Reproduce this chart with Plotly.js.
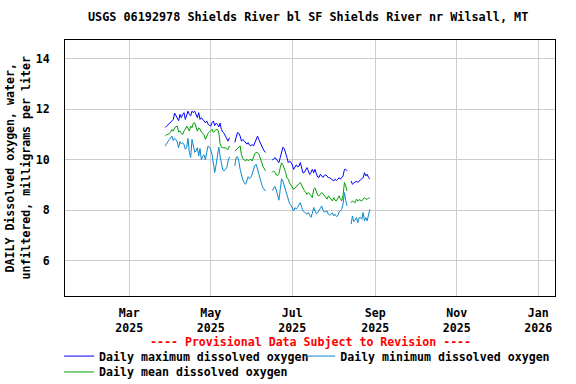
<!DOCTYPE html>
<html>
<head>
<meta charset="utf-8">
<script src="https://cdn.plot.ly/plotly-3.0.1.min.js"></script>
<style>
  html,body{margin:0;padding:0;background:#fff;}
  #chart{width:576px;height:384px;}
</style>
</head>
<body>
<div id="chart"></div>
<script>
// daily values from 2025-03-28, null = no record
const startDate = '2025-03-28';

const maxDO = [
  11.28,11.34,11.4,11.45,11.5,11.55,11.6,11.85,11.75,11.6,11.55,11.8,11.67,11.8,11.87,11.6,11.8,11.93,11.8,11.74,
  11.93,11.87,11.93,11.8,11.67,11.87,11.6,11.67,11.6,11.54,11.47,11.54,11.41,11.36,11.34,11.47,11.54,11.36,11.45,11.41,
  11.3,11.45,11.2,11.1,11.05,10.94,10.8,10.74,10.88,
  null,null,null,
  10.69,10.95,11.08,11.05,10.94,10.74,10.8,10.75,10.68,10.62,10.68,10.58,10.55,10.61,10.55,10.7,10.88,10.94,10.8,10.68,
  10.5,10.45,10.35,10.29,
  null,null,null,null,
  10.0,10.02,10.09,10.02,9.95,9.89,10.09,10.29,10.5,10.45,10.3,10.09,9.89,9.95,9.9,9.8,9.62,9.69,9.8,9.72,
  9.75,9.89,9.69,9.48,9.5,9.62,9.69,9.56,9.42,9.5,9.62,9.49,9.62,9.45,9.32,9.3,9.43,9.36,9.3,9.38,
  9.4,9.36,9.29,9.29,9.25,9.2,9.16,9.23,9.18,9.22,9.29,9.23,9.29,9.36,9.62,9.62,9.56,
  null,null,
  9.16,9.03,9.08,9.12,9.16,9.1,9.16,9.2,9.25,9.29,9.49,9.36,9.43,9.3,9.23
];

const minDO = [
  10.55,10.66,10.72,10.8,10.9,10.94,10.76,10.85,10.8,10.7,10.48,10.72,10.63,10.68,10.6,10.42,10.48,10.85,10.3,10.09,
  10.81,10.61,10.3,10.35,10.48,10.15,10.45,10.0,10.15,10.2,10.0,10.3,10.55,10.5,10.4,10.2,9.78,9.5,9.8,10.2,
  10.5,10.15,9.8,9.6,9.56,9.62,9.69,9.95,10.12,
  null,null,null,
  9.76,10.1,10.12,9.95,9.62,9.4,9.2,9.1,9.03,9.16,9.33,9.25,9.3,9.43,9.62,9.78,9.82,9.62,9.4,9.16,
  9.05,8.9,8.8,8.76,
  null,null,null,null,
  8.78,8.89,8.95,8.8,8.55,8.4,8.83,9.25,9.15,8.95,8.75,8.57,8.38,8.26,8.2,8.1,7.97,8.1,8.05,8.12,
  8.2,8.3,8.12,7.98,7.93,7.9,7.84,7.91,7.78,7.72,7.88,8.11,7.97,7.86,7.9,8.0,8.11,8.17,8.0,7.92,
  7.95,7.97,7.84,7.8,7.85,7.9,7.78,7.84,7.75,7.78,7.93,7.97,8.04,8.25,8.7,8.37,8.17,
  null,null,
  7.45,7.77,7.55,7.6,7.71,7.51,7.7,7.72,7.64,7.91,7.58,7.71,7.58,7.78,8.04
];

const meanDO = [
  10.95,11.0,11.0,11.05,11.1,11.2,11.14,11.27,11.3,11.34,11.1,11.14,11.05,11.0,11.14,11.21,11.34,11.2,11.14,11.34,
  11.27,11.45,11.47,11.3,11.14,11.27,11.21,11.1,11.05,11.0,10.81,10.94,11.05,11.1,11.14,11.21,11.08,11.14,11.2,11.21,
  11.1,10.65,10.5,10.48,10.48,10.48,10.42,10.42,10.55,
  null,null,null,
  10.35,10.4,10.45,10.5,10.55,10.2,10.05,10.0,9.95,10.02,9.96,10.0,10.02,9.95,10.08,10.25,10.29,10.29,10.22,10.09,
  9.92,9.75,9.65,9.56,
  null,null,null,null,
  9.5,9.56,9.5,9.4,9.38,9.45,9.69,9.88,9.8,9.68,9.5,9.29,9.23,9.08,9.0,8.92,8.83,8.88,8.95,9.0,
  9.05,9.1,8.98,8.85,8.78,8.72,8.63,8.7,8.65,8.58,8.5,8.83,8.89,8.7,8.6,8.57,8.63,8.7,8.65,8.58,
  8.5,8.44,8.57,8.5,8.42,8.37,8.5,8.4,8.37,8.5,8.57,8.45,8.37,8.6,9.1,8.96,8.76,
  null,null,
  8.3,8.37,8.33,8.3,8.44,8.37,8.42,8.4,8.37,8.44,8.5,8.44,8.44,8.47,8.5
];

const seriesNames = ['Daily maximum dissolved oxygen','Daily minimum dissolved oxygen','Daily mean dissolved oxygen'];
const seriesColors = ['#0000ff','#0a88cc','#00a000'];
// one legend box per entry so the two-column layout can be placed exactly
const seriesLegend = ['legend','legend2','legend3'];

function dayList(start, n){
  const out = [];
  const d0 = new Date(start + 'T00:00:00Z');
  for(let i=0;i<n;i++){
    const d = new Date(d0.getTime() + i*86400000);
    out.push(d.toISOString().slice(0,10));
  }
  return out;
}
const dates = dayList(startDate, maxDO.length);

const FONT = 'DejaVu Sans Mono, monospace';
const txt = (size, color) => ({family:FONT, size:size, color:color||'#000', weight:'bold'});

const traces = [maxDO, minDO, meanDO].map((vals,i)=>({
  x: dates, y: vals, type:'scatter', mode:'lines',
  name: seriesNames[i],
  legend: seriesLegend[i],
  line:{color:seriesColors[i], width:1},
  connectgaps:false
}));

const legendBase = {orientation:'v', xanchor:'left', yanchor:'top',
  itemwidth:30, font:txt(11.6), tracegroupgap:0, bgcolor:'rgba(0,0,0,0)'};

const layout = {
  width:576, height:384,
  margin:{l:65, r:21, t:40, b:88, autoexpand:false},
  paper_bgcolor:'#fff', plot_bgcolor:'#fff',
  font:txt(11.6),
  title:{text:'USGS 06192978 Shields River bl SF Shields River nr Wilsall, MT',
    font:txt(11.8), x:0.535, xanchor:'center', y:0.955, yanchor:'middle'},
  showlegend:true,
  legend:Object.assign({}, legendBase, {x:-0.012, y:-0.178}),
  legend2:Object.assign({}, legendBase, {x:0.48, y:-0.178}),
  legend3:Object.assign({}, legendBase, {x:-0.012, y:-0.24}),
  xaxis:{type:'date', range:['2025-01-12','2026-01-13 12:00'],
    tick0:'2025-01-01', dtick:'M2', tickformat:'%b<br>%Y',
    showgrid:true, gridcolor:'#cccccc', gridwidth:1,
    showline:true, linecolor:'#000', linewidth:1, mirror:true,
    ticks:'', ticklabelstandoff:6, zeroline:false, automargin:false,
    tickfont:txt(11.6)},
  yaxis:{range:[4.6,14.75], tick0:6, dtick:2,
    showgrid:true, gridcolor:'#cccccc', gridwidth:1,
    showline:true, linecolor:'#000', linewidth:1, mirror:true,
    ticks:'', ticklabelstandoff:12, zeroline:false, automargin:false,
    tickfont:txt(11.6)},
  annotations:[
    {text:'DAILY Dissolved oxygen, water,<br>unfiltered, milligrams per liter',
      xref:'paper', yref:'paper', x:-0.097, y:0.5, xanchor:'center', yanchor:'middle',
      textangle:-90, showarrow:false, font:txt(11.6)},
    {text:'---- Provisional Data Subject to Revision ----',
      xref:'paper', yref:'paper', x:0.5, y:-0.18, xanchor:'center', yanchor:'middle',
      showarrow:false, font:txt(11.6, '#ff0000')}
  ]
};

Plotly.newPlot('chart', traces, layout, {staticPlot:true, displayModeBar:false});
</script>
</body>
</html>
